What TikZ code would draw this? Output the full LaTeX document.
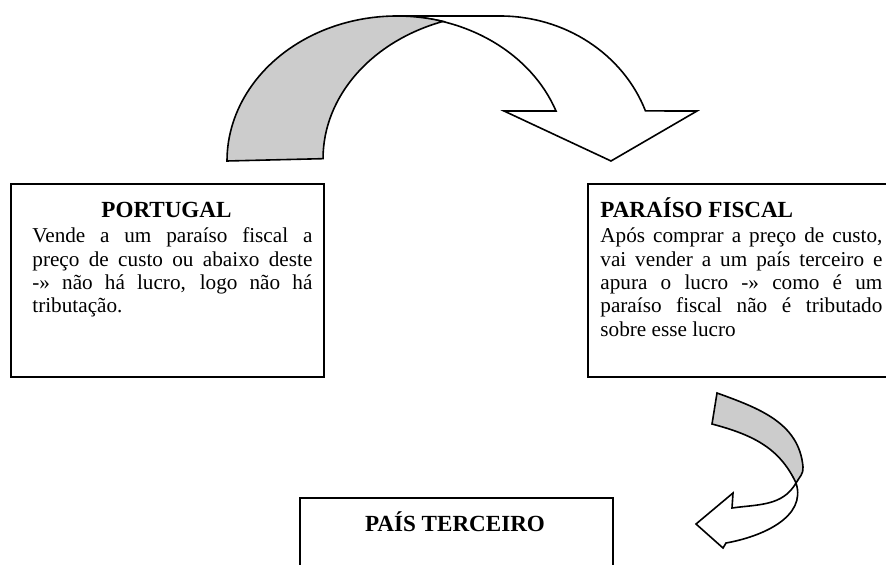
\documentclass[tikz,border=0pt]{standalone}
\usepackage{fontspec}
\setmainfont{Liberation Serif}
\usepackage{tikz}
\usepackage{xcolor}

\begin{document}
\begin{tikzpicture}[x=0.5pt, y=0.5pt,
        box/.style={draw, line width=0.9pt, anchor=north west, minimum width=156.5pt, minimum height=96.5pt, inner sep=0pt},
        title/.style={font=\fontsize{11.55}{13}\selectfont\bfseries, inner sep=0pt},
        body/.style={font=\fontsize{10.6}{11.65}\selectfont, inner sep=0pt, anchor=base west, align=justify},
        band/.style={draw, line width=0.8pt, line join=miter}]
                \useasboundingbox (0,0) rectangle (886,-565);
                \clip (0,0) rectangle (886,-565);

                % the big arrow over the top
                \draw[band, fill=white] (397,-16) -- (500,-16) arc[start angle=90, end angle=20.2, x radius=155, y radius=145]
                        -- (697,-111) -- (611,-161) -- (504,-111) -- (556,-111)
                        arc[start angle=20.2, end angle=90, x radius=170, y radius=145] -- cycle;
                \draw[band, fill=gray!40] (227,-161) arc[start angle=180, end angle=74.3, x radius=170, y radius=145]
                        arc[start angle=108.8, end angle=180, x radius=177, y radius=145] -- cycle;

                % the small arrow on the right
                \coordinate (a) at (717,-393);
                \coordinate (b) at (712,-424);
                \coordinate (r) at (803,-467);
                \coordinate (c) at (796,-483);
                \coordinate (w1) at (732,-508);
                \coordinate (h1) at (733,-493);
                \coordinate (tip) at (696,-524);
                \coordinate (h2) at (723,-548);
                \coordinate (w2) at (726,-543);
                \draw[band, fill=white] (c) to[out=240, in=8] (w1) -- (h1) -- (tip) -- (h2) -- (w2) to[out=10, in=-72] (c) -- cycle;
                \draw[band, fill=gray!40] (a) to[out=-20, in=95] (r) to[out=-85, in=60] (c) to[out=115, in=-15] (b) -- cycle;

                % the three boxes
                \node[box] (portugal) at (10,-183) {};
                \node[box] (paraiso) at (587,-183) {};
                \node[box] (terceiro) at (299,-497) {};

                \node[title, anchor=base] (portugaltitle) at (166.5,-218) {PORTUGAL};
                \node[body, text width=140pt] (portugaltext) at (32,-243)
                        {Vende a um paraíso fiscal a\linebreak preço de custo ou abaixo deste\linebreak -» não há lucro, logo não há\linebreak tributação.};

                \node[title, anchor=base west] (paraisotitle) at (600,-218) {PARAÍSO FISCAL};
                \node[body, text width=141pt] (paraisotext) at (600,-243)
                        {Após comprar a preço de custo,\linebreak vai vender a um país terceiro e\linebreak apura o lucro -» como é um\linebreak paraíso fiscal não é tributado\linebreak sobre esse lucro};

                \node[title, anchor=base] (terceirotitle) at (455,-531) {PAÍS TERCEIRO};
\end{tikzpicture}
\end{document}
